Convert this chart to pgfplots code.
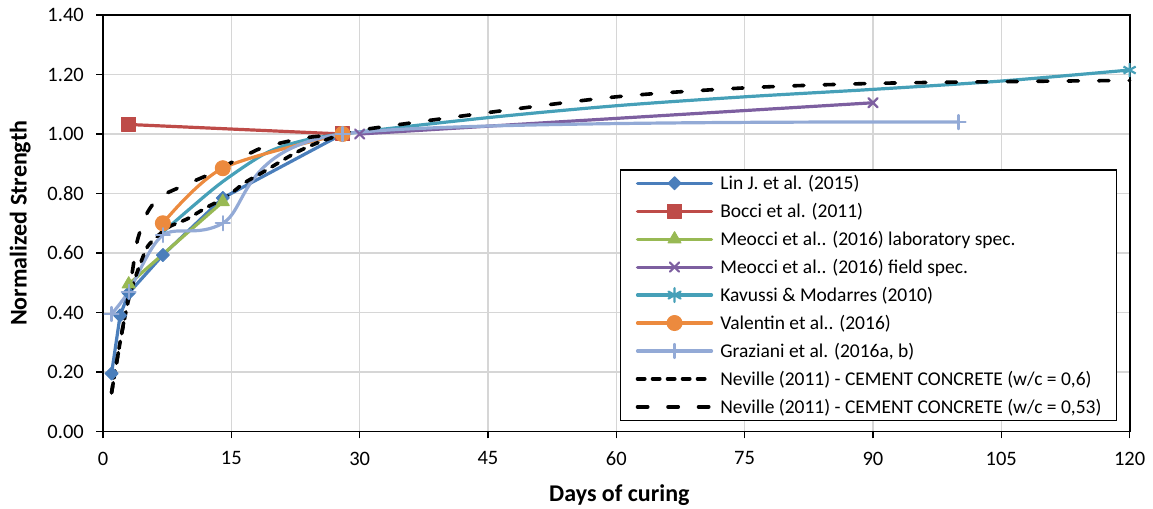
\documentclass[border=0pt]{standalone}
\usepackage{fontspec}
\setmainfont{Carlito}
\usepackage{pgfplots}
\pgfplotsset{compat=1.18}
\definecolor{cLin}{HTML}{4A7EBB}
\definecolor{cBocci}{HTML}{BE4B48}
\definecolor{cMlab}{HTML}{98B954}
\definecolor{cMfield}{HTML}{7D5FA0}
\definecolor{cKav}{HTML}{46A0B8}
\definecolor{cVal}{HTML}{EC8A3E}
\definecolor{cGraz}{HTML}{93AAD6}
\pgfplotsset{
  sLin/.style={draw=cLin, line width=3.2bp, line cap=round, line join=round, mark=square*, mark size=4.6bp, mark options={solid, rotate=45, fill=cLin, draw=cLin, line width=1bp}},
  sBocci/.style={draw=cBocci, line width=3.2bp, line cap=round, line join=round, mark=square*, mark size=7bp, mark options={solid, fill=cBocci, draw=cBocci, line width=1bp}},
  sMlab/.style={draw=cMlab, line width=3.2bp, line cap=round, line join=round, mark=triangle*, mark size=7.5bp, mark options={solid, fill=cMlab, draw=cMlab, line width=1bp}},
  sMfield/.style={draw=cMfield, line width=3.2bp, line cap=round, line join=round, mark=x, mark size=6.5bp, mark options={solid, draw=cMfield, line width=2.2bp}},
  sKavLine/.style={draw=cKav, line width=3.2bp, line cap=round, line join=round},
  sKavMark/.style={mark=asterisk, mark size=7bp, mark options={solid, draw=cKav, line width=2.2bp}},
  sVal/.style={draw=cVal, line width=3.2bp, line cap=round, line join=round, mark=*, mark size=7.5bp, mark options={solid, fill=cVal, draw=cVal, line width=1bp}},
  sGraz/.style={draw=cGraz, line width=3.2bp, line cap=round, line join=round, mark=+, mark size=7bp, mark options={solid, draw=cGraz, line width=2.2bp}},
  sNsix/.style={draw=black, line width=3.6bp, line cap=round, dash pattern=on 7.2bp off 7.8bp},
  sNfif/.style={draw=black, line width=3.6bp, line cap=round, dash pattern=on 10.2bp off 20.3bp},
}
\begin{document}
\begin{tikzpicture}
\path[use as bounding box] (0,0) rectangle (1153bp,509bp);
\begin{axis}[
  at={(103bp,77.5bp)}, anchor=south west,
  scale only axis, width=1026.6bp, height=416.5bp,
  xmin=0, xmax=120, ymin=0, ymax=1.4,
  xtick={0,15,30,45,60,75,90,105,120},
  ytick={0,0.2,0.4,0.6,0.8,1.0,1.2,1.4},
  clip=false,
  grid=major,
  grid style={draw=black!16, line width=1.3bp},
  axis line style={line width=1.8bp},
  tick style={black, line width=1.5bp},
  major tick length=7bp,
  tick align=outside,
  xtick pos=lower, ytick pos=left,
  /pgf/number format/assume math mode=true,
  tick label style={font=\fontsize{20.5bp}{24bp}\selectfont},
  yticklabel style={inner sep=0pt, anchor=east, xshift=-12bp, /pgf/number format/.cd, fixed, fixed zerofill, precision=2},
  xticklabel style={inner sep=0pt, anchor=north, yshift=-13bp},
  xlabel={Days of curing},
  ylabel={Normalized Strength},
  every axis x label/.style={at={(axis description cs:0.503,-0.168)}, anchor=base, font=\fontsize{24bp}{28bp}\selectfont\bfseries},
  every axis y label/.style={at={(axis description cs:-0.0743,0.5)}, rotate=90, anchor=base, font=\fontsize{24bp}{28bp}\selectfont\bfseries},
  legend style={at={(rel axis cs:0.988,0.630)}, anchor=north east, draw=black, line width=1.5bp, fill=white,
    font=\fontsize{19.5bp}{23bp}\selectfont, inner xsep=15bp, inner ysep=5.5bp, row sep=12.2bp, column sep=7bp,
    nodes={inner sep=0pt}},
  legend cell align=left,
  legend image code/.code={\draw[mark repeat=2,mark phase=2,#1] plot coordinates {(0bp,0bp) (37bp,0bp) (74bp,0bp)};},
]
% Lin J. et al. (2015)
\addplot[sLin, forget plot] coordinates {(1,0.195) (2,0.39) (3,0.465) (7,0.593) (14,0.785) (28,1.0)};
% Bocci et al. (2011)
\addplot[sBocci, forget plot] coordinates {(3,1.032) (28,1.0)};
% Meocci et al. (2016) laboratory spec.
\addplot[sMlab, forget plot] coordinates {(3,0.495) (14,0.772)};
% Meocci et al. (2016) field spec.
\addplot[sMfield, forget plot] coordinates {(30,1.0) (90,1.105)};
% Kavussi & Modarres (2010)
\addplot[sKavLine, smooth, no marks, forget plot] coordinates {(7,0.67) (10,0.745) (14,0.84) (19,0.935) (23,0.975) (28,1.0) (45,1.055) (60,1.095) (75,1.125) (90,1.15) (105,1.178) (120,1.215)};
\addplot[sKavMark, only marks, forget plot] coordinates {(120,1.215)};
% Valentin et al. (2016)
\addplot[sVal, smooth, forget plot] coordinates {(7,0.70) (14,0.885) (28,1.0)};
% Graziani et al. (2016a, b)
\addplot[sGraz, smooth, forget plot] coordinates {(1,0.395) (3,0.47) (7,0.66) (14,0.70) (28,1.0) (100,1.04)};
% Neville w/c = 0,6
\addplot[sNsix, smooth, no marks, forget plot] coordinates {(1,0.13) (2,0.30) (3,0.445) (3.8,0.52) (5,0.61) (5.7,0.638) (7.6,0.686) (9.8,0.714) (12.1,0.753) (14.5,0.79) (16.5,0.835) (18.6,0.87) (21.9,0.927) (23.6,0.952) (25.4,0.974) (28,1.0)};
% Neville w/c = 0,53
\addplot[sNfif, smooth, no marks, forget plot] coordinates {(1,0.13) (2,0.30) (3,0.46) (3.5,0.55) (4,0.64) (5,0.725) (6,0.77) (7,0.795) (10.5,0.84) (13,0.872) (15.5,0.912) (17.3,0.937) (19,0.957) (23.6,0.987) (28,1.0) (30,1.013) (45,1.072) (60,1.125) (75,1.155) (90,1.170) (105,1.176) (120,1.18)};

\addlegendimage{sLin}\addlegendentry{Lin J. et al. (2015)}
\addlegendimage{sBocci}\addlegendentry{Bocci et al. (2011)}
\addlegendimage{sMlab}\addlegendentry{Meocci et al.. (2016) laboratory spec.}
\addlegendimage{sMfield}\addlegendentry{Meocci et al.. (2016) field spec.}
\addlegendimage{sKavLine, sKavMark}\addlegendentry{Kavussi \& Modarres (2010)}
\addlegendimage{sVal}\addlegendentry{Valentin et al.. (2016)}
\addlegendimage{sGraz}\addlegendentry{Graziani et al. (2016a, b)}
\addlegendimage{sNsix, no marks}\addlegendentry{Neville (2011) - CEMENT CONCRETE (w/c = 0,6)}
\addlegendimage{sNfif, no marks}\addlegendentry{Neville (2011) - CEMENT CONCRETE (w/c = 0,53)}
\end{axis}
\end{tikzpicture}
\end{document}
